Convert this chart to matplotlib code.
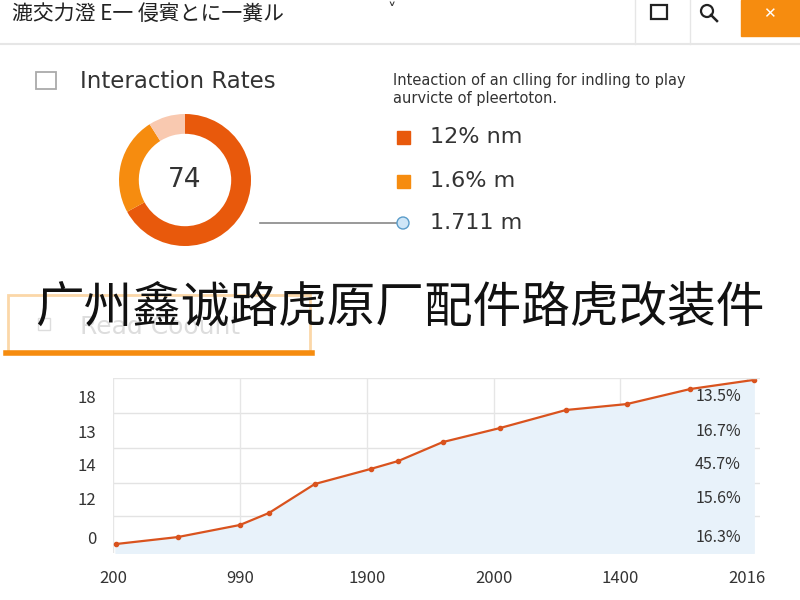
import matplotlib
matplotlib.use("Agg")
import matplotlib.pyplot as plt
from matplotlib.patches import Rectangle, Circle

plt.rcParams['font.family'] = ['Noto Sans CJK JP', 'DejaVu Sans']

header_text = "漉交力澄 Ε一 侵賓とに一糞ル"
donut_title = "Interaction Rates"
donut_center = "74"
donut_values = [67, 24, 9]
donut_colors = ["#e8590c", "#f68c0f", "#f9c9b0"]
legend_labels = ["12% nm", "1.6% m", "1.711 m"]
desc_lines = ["Inteaction of an clling for indling to play", "aurvicte of pleertoton."]
overlay = "广州鑫诚路虎原厂配件路虎改装件"
x_labels = ["200", "990", "1900", "2000", "1400", "2016"]
x_pts = [0.02, 0.51, 1.0, 1.23, 1.59, 2.03, 2.25, 2.6, 3.05, 3.57, 4.05, 4.55, 5.05]
y_pts = [5.1, 9.1, 16.0, 22.9, 39.4, 48.0, 52.6, 63.4, 71.4, 81.7, 85.1, 93.7, 98.9]
y_tick_vals = [89.7, 69.7, 50.3, 30.9, 9.1]
y_tick_labels = ["18", "13", "14", "12", "0"]
grid_vals = [80, 60, 40, 21]
right_labels = ["13.5%", "16.7%", "45.7%", "15.6%", "16.3%"]

fig = plt.figure(figsize=(8, 6), dpi=100)
bg = fig.add_axes([0, 0, 1, 1])
bg.set_xlim(0, 800); bg.set_ylim(600, 0); bg.axis('off')

# header
bg.add_patch(Rectangle((0, 0), 800, 44, color="white"))
bg.plot([0, 800], [44, 44], color="#e6e6e6", lw=1.5)
bg.text(12, 14, header_text, fontsize=15, va='center', color="#222")
bg.text(392, 12, "˅", fontsize=12, va='center', ha='center', color="#333")
bg.plot([635, 635], [0, 44], color="#e6e6e6", lw=1)
bg.plot([690, 690], [0, 44], color="#e6e6e6", lw=1)
bg.add_patch(Rectangle((651, 5), 16, 14, fill=False, ec="#222", lw=1.6))
bg.add_patch(Circle((707, 11), 6, fill=False, ec="#222", lw=1.6))
bg.plot([711, 717], [15, 21], color="#222", lw=1.8)
bg.add_patch(Rectangle((741, 0), 59, 36, color="#f68c0f"))
bg.text(769, 14, "✕", fontsize=11, ha='center', va='center', color="white")

# donut section
bg.add_patch(Rectangle((36, 72), 20, 17, fill=False, ec="#aaa", lw=1.3))
bg.text(80, 81, donut_title, fontsize=16.5, va='center', color="#333", family="DejaVu Sans")
for i, l in enumerate(desc_lines):
    bg.text(393, 80 + i * 19, l, fontsize=10.5, va='center', color="#333", family="DejaVu Sans")
leg_y = [137, 181, 223]
for i in range(2):
    bg.add_patch(Rectangle((397, leg_y[i] - 6), 13, 13, color=donut_colors[i]))
for i, l in enumerate(legend_labels):
    bg.text(430, leg_y[i], l, fontsize=16, va='center', color="#333", family="DejaVu Sans")
bg.plot([260, 400], [223, 223], color="#888", lw=1.2)
bg.add_patch(Circle((403, 223), 6, fc="#cfe6f7", ec="#5a9cc9", lw=1, zorder=5))

dax = fig.add_axes([(185 - 66) / 800, 1 - (180 + 66) / 600, 132 / 800, 132 / 600])
dax.pie(donut_values, colors=donut_colors, startangle=90, counterclock=False,
        wedgeprops=dict(width=0.3, edgecolor='none'), radius=1)
dax.text(0, 0, donut_center, ha='center', va='center', fontsize=19, color="#333", family="DejaVu Sans")
dax.set_xlim(-1, 1); dax.set_ylim(-1, 1)
dax.set_aspect('equal')

# read count box
bg.add_patch(Rectangle((8, 295), 302, 58, fill=False, ec="#fbd7a8", lw=2))
bg.plot([6, 312], [353, 353], color="#f68c0f", lw=4)
bg.add_patch(Rectangle((38, 318), 12, 12, fill=False, ec="#ddd", lw=1))
bg.text(80, 327, "Read Coount", fontsize=18, va='center', color="#ddd", family="DejaVu Sans")
bg.text(400, 308, overlay, fontsize=35, ha='center', va='center', color="#111",
        family=['Noto Sans CJK SC'], zorder=10)

# line chart
ax = fig.add_axes([113 / 800, 1 - 553 / 600, (760 - 113) / 800, (553 - 378) / 600])
ax.set_xlim(0, 5.1); ax.set_ylim(0, 100)
ax.fill_between(x_pts, y_pts, 0, color="#e8f2fa")
ax.plot(x_pts, y_pts, color="#d9531e", lw=1.6, marker='o', ms=3)
ax.set_xticks(range(6)); ax.set_xticklabels(x_labels, fontsize=12, color="#333")
ax.set_yticks(y_tick_vals); ax.set_yticklabels(y_tick_labels, fontsize=12, color="#333")
for g in grid_vals:
    ax.axhline(g, color="#e3e3e3", lw=1, zorder=0)
for xv in range(6):
    ax.axvline(xv, color="#e6e6e6", lw=1, zorder=0)
ax.axhline(100, color="#e6e6e6", lw=1)
for v, l in zip(y_tick_vals, right_labels):
    ax.text(4.95, v, l, ha='right', va='center', fontsize=11.5, color="#333")
ax.tick_params(length=0, pad=12)
for s in ax.spines.values():
    s.set_visible(False)

fig.savefig("out.png", dpi=100)
